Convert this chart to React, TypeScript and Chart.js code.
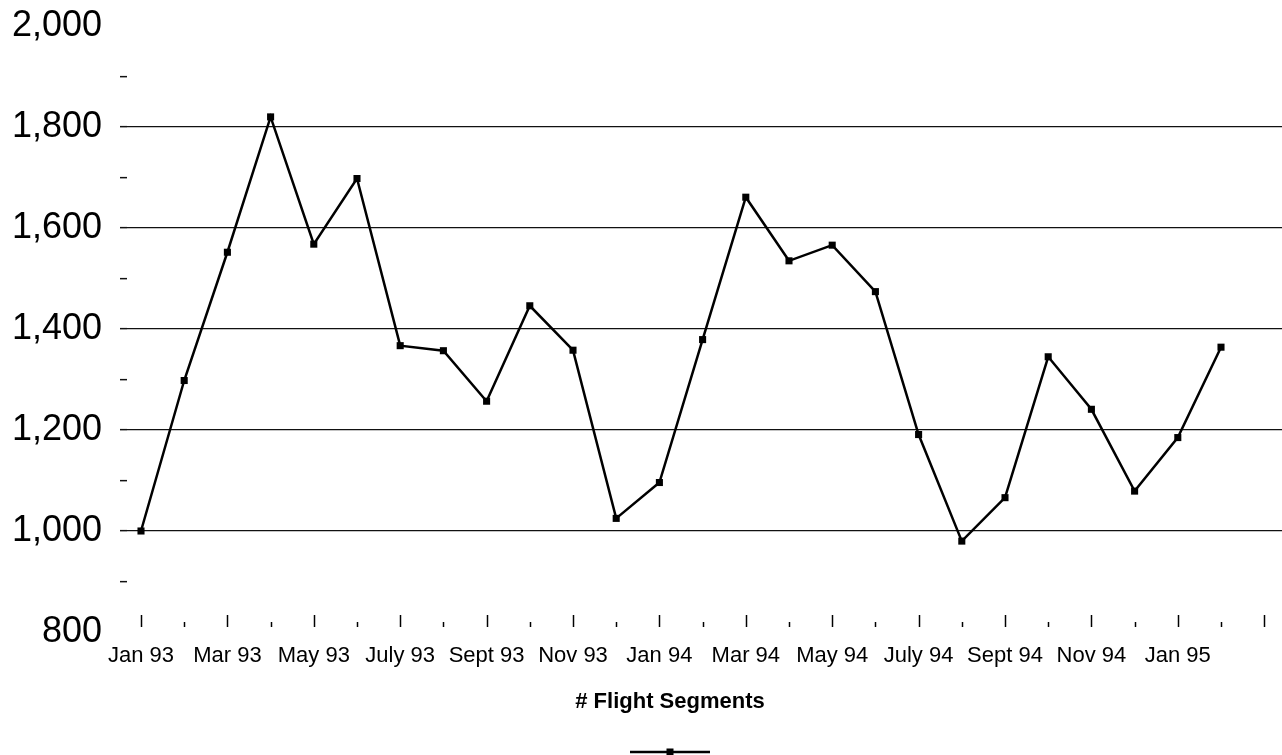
import { useEffect, useRef } from 'react';
import { Chart, registerables } from 'chart.js';

Chart.register(...registerables);

// ---- data ----
const months = [
  'Jan 93', 'Feb 93', 'Mar 93', 'Apr 93', 'May 93', 'Jun 93', 'Jul 93', 'Aug 93', 'Sep 93',
  'Oct 93', 'Nov 93', 'Dec 93', 'Jan 94', 'Feb 94', 'Mar 94', 'Apr 94', 'May 94', 'Jun 94',
  'Jul 94', 'Aug 94', 'Sep 94', 'Oct 94', 'Nov 94', 'Dec 94', 'Jan 95', 'Feb 95', 'Mar 95',
];
const flightSegments = [
  1000, 1298, 1552, 1820, 1568, 1698, 1367, 1357, 1257, 1446, 1358, 1025, 1096,
  1379, 1661, 1535, 1566, 1474, 1191, 980, 1066, 1345, 1241, 1079, 1185, 1364,
];
const xTickLabels = [
  'Jan 93', 'Mar 93', 'May 93', 'July 93', 'Sept 93', 'Nov 93', 'Jan 94',
  'Mar 94', 'May 94', 'July 94', 'Sept 94', 'Nov 94', 'Jan 95',
];
const yTickValues = [800, 900, 1000, 1100, 1200, 1300, 1400, 1500, 1600, 1700, 1800, 1900, 2000];
const yLabelValues = [800, 1000, 1200, 1400, 1600, 1800, 2000];
const yGridValues = [1000, 1200, 1400, 1600, 1800];
const seriesLabel = '# Flight Segments';

const FONT = "'Liberation Sans', Arial, Helvetica, sans-serif";

const xTickMarks = {
  id: 'xTickMarks',
  afterDraw(chart: any) {
    const { ctx, chartArea, scales } = chart;
    const x = scales.x;
    ctx.save();
    ctx.strokeStyle = '#000';
    ctx.lineWidth = 1.5;
    months.forEach((_m, i) => {
      const px = Math.round(x.getPixelForValue(i)) + 0.5;
      const yEnd = chartArea.bottom - 5;
      const yStart = i % 2 === 0 ? chartArea.bottom - 17 : chartArea.bottom - 10;
      ctx.beginPath();
      ctx.moveTo(px, yStart);
      ctx.lineTo(px, yEnd);
      ctx.stroke();
    });
    ctx.restore();
  },
};

const bottomLegend = {
  id: 'bottomLegend',
  afterDraw(chart: any) {
    const { ctx } = chart;
    const ds = chart.data.datasets[0];
    const cx = chart.width / 2 + 29;
    ctx.save();
    ctx.fillStyle = '#000';
    ctx.font = `bold 22px ${FONT}`;
    ctx.textAlign = 'center';
    ctx.textBaseline = 'alphabetic';
    ctx.fillText(ds.label, cx, 708);
    ctx.strokeStyle = ds.borderColor;
    ctx.lineWidth = ds.borderWidth;
    ctx.beginPath();
    ctx.moveTo(cx - 40, 752);
    ctx.lineTo(cx + 40, 752);
    ctx.stroke();
    ctx.fillStyle = ds.pointBackgroundColor;
    ctx.fillRect(cx - 3.5, 748.5, 7, 7);
    ctx.restore();
  },
};

export default function App() {
  const canvasRef = useRef<HTMLCanvasElement | null>(null);

  useEffect(() => {
    if (!canvasRef.current) return;
    const chart = new Chart(canvasRef.current, {
      type: 'line',
      data: {
        datasets: [
          {
            label: seriesLabel,
            data: flightSegments.map((v, i) => ({ x: i, y: v })),
            borderColor: '#000',
            borderWidth: 2.5,
            pointStyle: 'rect',
            pointRadius: 5,
            pointBorderWidth: 0,
            pointBackgroundColor: '#000',
            tension: 0,
          },
        ],
      },
      options: {
        animation: false,
        responsive: false,
        maintainAspectRatio: false,
        layout: { autoPadding: false, padding: { top: 26, left: 0, right: 0, bottom: 0 } },
        plugins: {
          legend: { display: false },
          tooltip: { enabled: false },
          title: { display: false },
        },
        scales: {
          x: {
            type: 'linear',
            min: -0.324,
            max: 26.412,
            afterBuildTicks: (scale: any) => {
              scale.ticks = months.map((_m, i) => ({ value: i }));
            },
            afterFit: (scale: any) => {
              scale.height = 123;
              scale.paddingLeft = 0;
              scale.paddingRight = 0;
            },
            grid: { display: false, drawTicks: false },
            border: { display: false },
            ticks: {
              autoSkip: false,
              maxRotation: 0,
              minRotation: 0,
              padding: 11,
              color: '#000',
              font: { family: FONT, size: 22 },
              callback: (v: any) => {
                const i = Math.round(Number(v));
                return i % 2 === 0 && xTickLabels[i / 2] ? xTickLabels[i / 2] : '';
              },
            },
          },
          y: {
            min: 800,
            max: 2000,
            afterBuildTicks: (scale: any) => {
              scale.ticks = yTickValues.map((v) => ({ value: v }));
            },
            afterFit: (scale: any) => {
              scale.width = 127;
              scale.paddingTop = 0;
              scale.paddingBottom = 0;
            },
            border: { display: false },
            grid: {
              drawOnChartArea: true,
              drawTicks: true,
              tickLength: 7,
              lineWidth: 1.3,
              tickWidth: 1.5,
              color: (ctx: any) => (yGridValues.includes(ctx.tick?.value) ? '#111' : 'rgba(0,0,0,0)'),
              tickColor: (ctx: any) =>
                ctx.tick && ctx.tick.value > 800 && ctx.tick.value < 2000 ? '#111' : 'rgba(0,0,0,0)',
            },
            ticks: {
              padding: 18,
              color: '#000',
              font: { family: FONT, size: 36 },
              callback: (v: any) =>
                yLabelValues.includes(Number(v)) ? Number(v).toLocaleString('en-US') : '',
            },
          },
        },
      },
      plugins: [xTickMarks, bottomLegend],
    } as any);
    return () => chart.destroy();
  }, []);

  return (
    <div style={{ position: 'fixed', left: 0, top: 0, width: 1282, height: 755, background: '#fff' }}>
      <canvas ref={canvasRef} width={1282} height={755} style={{ display: 'block' }} />
    </div>
  );
}
